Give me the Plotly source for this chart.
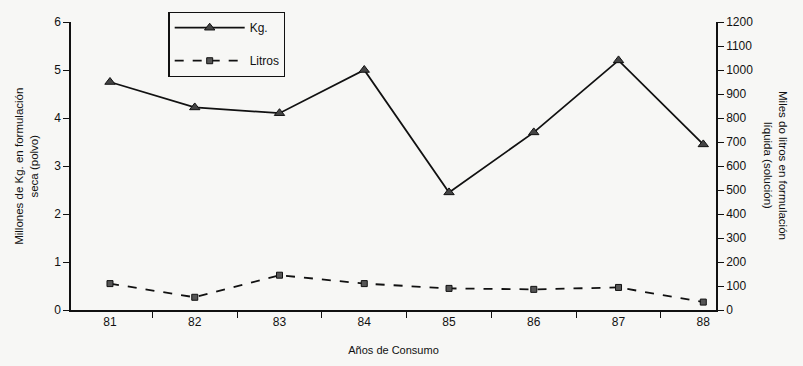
import plotly.graph_objects as go

years = ["81", "82", "83", "84", "85", "86", "87", "88"]
kg_millones = [4.75, 4.22, 4.1, 5.0, 2.45, 3.7, 5.2, 3.45]
litros_miles = [110, 53, 145, 110, 90, 86, 94, 33]

font_family = "Liberation Sans, Arial, sans-serif"
ink = "#111111"

fig = go.Figure()
fig.add_trace(go.Scatter(
    x=years, y=kg_millones, name="Kg.", mode="lines+markers", legendgroup="a",
    line=dict(color=ink, width=1.8),
    marker=dict(symbol="triangle-up", size=9, color="#444", line=dict(color=ink, width=1)),
))
fig.add_trace(go.Scatter(
    x=years, y=litros_miles, name="Litros", mode="lines+markers", yaxis="y2", legendgroup="b",
    line=dict(color=ink, width=1.8, dash="dash"),
    marker=dict(symbol="square", size=6, color="#555", line=dict(color=ink, width=1)),
))

tick_font = dict(family=font_family, size=12, color=ink)

fig.update_layout(
    width=803, height=366,
    margin=dict(l=71, r=87, t=17, b=56),
    paper_bgcolor="#f7f7f5", plot_bgcolor="#f7f7f5",
    font=dict(family=font_family, size=12, color=ink),
    showlegend=True,
    legend=dict(
        x=0.151, y=1.035, xanchor="left", yanchor="top",
        bordercolor=ink, borderwidth=1.3, bgcolor="#f7f7f5",
        font=dict(size=12, color=ink), tracegroupgap=14, itemwidth=70,
    ),
    xaxis=dict(
        type="category", range=[-0.46, 7.15],
        showline=True, linecolor=ink, linewidth=1.5,
        ticks="outside", ticklen=6, tickcolor=ink, tickwidth=1.2,
        tickson="boundaries", showgrid=False, zeroline=False,
        tickfont=tick_font,
        title=dict(text="Años de Consumo", font=dict(size=11, color=ink), standoff=18),
    ),
    yaxis=dict(
        range=[0, 6], dtick=1, showline=True, linecolor=ink, linewidth=1.5,
        ticks="outside", ticklen=6, tickcolor=ink, tickwidth=1.2,
        showgrid=False, zeroline=False,
        tickfont=tick_font,
    ),
    yaxis2=dict(
        range=[0, 1200], dtick=100, overlaying="y", side="right", anchor="x",
        showline=True, linecolor=ink, linewidth=1.5,
        ticks="outside", ticklen=6, tickcolor=ink, tickwidth=1.2,
        showgrid=False, zeroline=False,
        tickfont=tick_font,
    ),
    annotations=[
        dict(text="Millones de Kg. en formulación<br>seca (polvo)",
             xref="paper", yref="paper", x=-0.07, y=0.5, textangle=-90,
             showarrow=False, font=dict(size=11.5, color=ink), xanchor="center", yanchor="middle"),
        dict(text="Miles do litros en formulación<br>líquida (solución)",
             xref="paper", yref="paper", x=1.093, y=0.5, textangle=90,
             showarrow=False, font=dict(size=11.5, color=ink), xanchor="center", yanchor="middle"),
    ],
)

fig.write_html("out.html")
